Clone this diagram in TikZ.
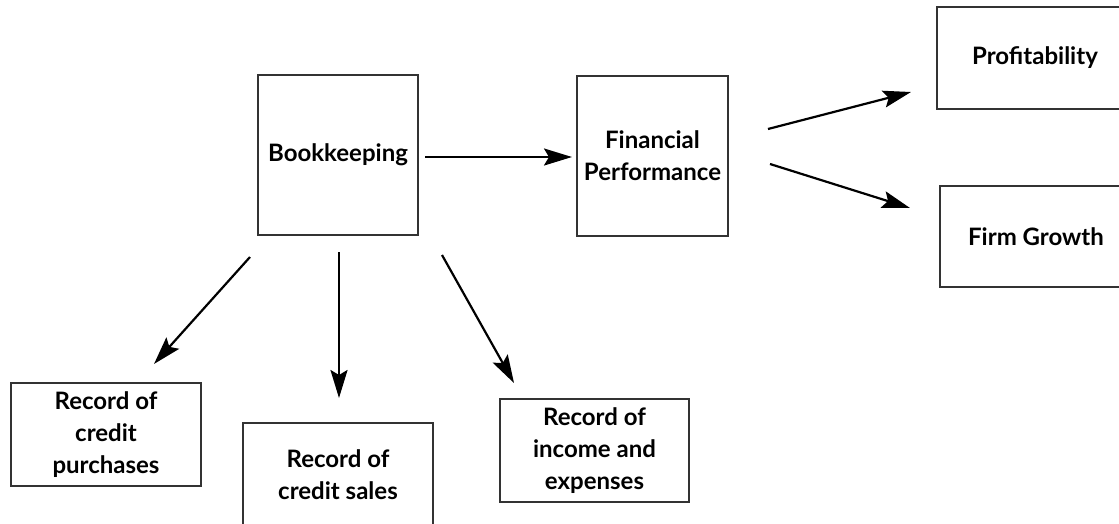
\documentclass[tikz,border=0pt]{standalone}
\usepackage{fontspec}
\setmainfont{Lato}
\usetikzlibrary{arrows.meta}
\begin{document}
\begin{tikzpicture}[x=1pt,y=-1pt,
  box/.style={draw=black!80, line width=1.4pt, rectangle, inner sep=0pt, align=center,
    font=\fontsize{24}{32}\selectfont\bfseries},
  conn/.style={line width=2.2pt, -{Stealth[length=28pt,width=17pt,inset=5pt]}}]
\useasboundingbox (0,0) rectangle (1119,523);
\clip (0,0) rectangle (1119,523);
\fill[white] (0,0) rectangle (1119,523);
\node[box, minimum width=160pt, minimum height=160pt] (bk) at (338,155) {Bookkeeping};
\node[box, minimum width=151pt, minimum height=160pt] (fp) at (652.5,156) {Financial\\Performance};
\node[box, minimum width=196pt, minimum height=102pt] (pr) at (1035,58) {Profitability};
\node[box, minimum width=192pt, minimum height=101pt] (fg) at (1036,236.5) {Firm Growth};
\node[box, minimum width=190pt, minimum height=103pt] (rcp) at (106,434.5) {Record of\\credit\\purchases};
\node[box, minimum width=190pt, minimum height=103pt] (rcs) at (338,474.5) {Record of\\credit sales};
\node[box, minimum width=189pt, minimum height=103pt] (rie) at (594.5,450.5) {Record of\\income and\\expenses};
% arrow end points
\coordinate (bkA) at (425,157);
\coordinate (fpA) at (572,157);
\coordinate (fpU) at (768,129);
\coordinate (prA) at (911,92);
\coordinate (fpD) at (770,164);
\coordinate (fgA) at (910,208);
\coordinate (bkL) at (250,257);
\coordinate (rcpA) at (154,364);
\coordinate (bkM) at (339,252);
\coordinate (rcsA) at (339,398);
\coordinate (bkR) at (442,255);
\coordinate (rieA) at (514,383);
\draw[conn] (bkA) -- (fpA);
\draw[conn] (fpU) -- (prA);
\draw[conn] (fpD) -- (fgA);
\draw[conn] (bkL) -- (rcpA);
\draw[conn] (bkM) -- (rcsA);
\draw[conn] (bkR) -- (rieA);
\end{tikzpicture}
\end{document}
